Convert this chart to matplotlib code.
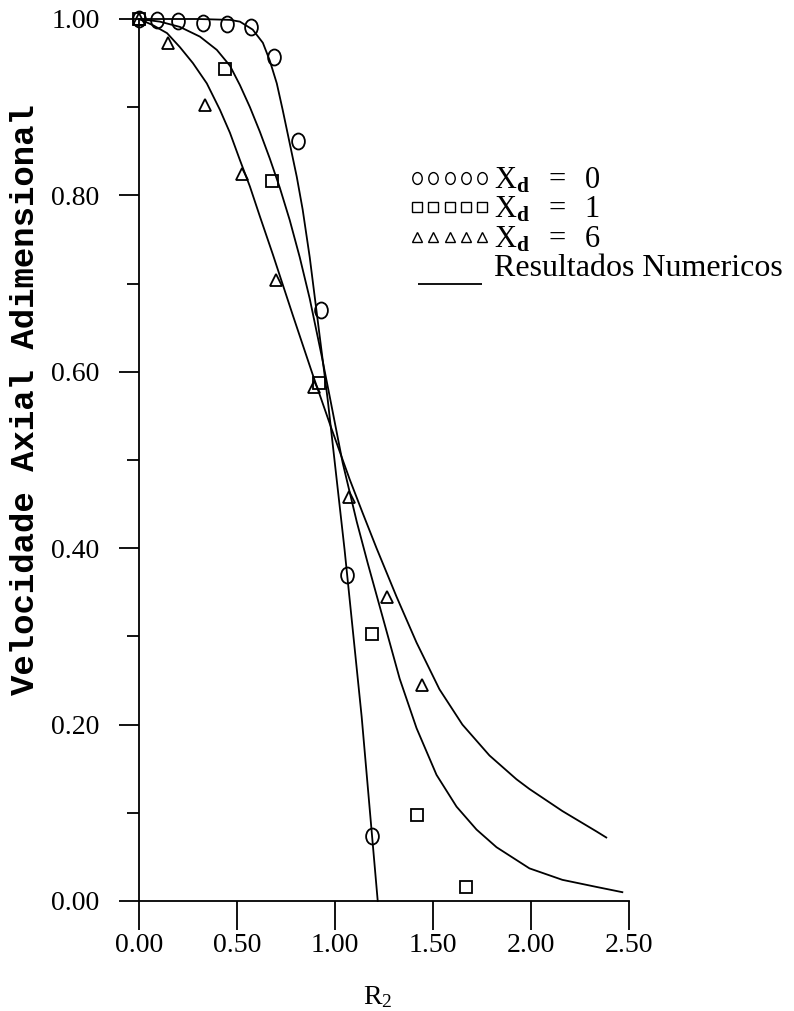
import matplotlib
matplotlib.use("Agg")
import matplotlib.pyplot as plt
import matplotlib.path as mpath
from matplotlib.transforms import Affine2D
from matplotlib.lines import Line2D
from matplotlib.legend_handler import HandlerLine2D

# ---------------- data ----------------
# experimental points, X_d = 0 (circles)
circ_x = [0.0, 0.09, 0.20, 0.325, 0.45, 0.57, 0.69, 0.81, 0.93, 1.06, 1.19]
circ_y = [1.0, 0.999, 0.998, 0.996, 0.994, 0.991, 0.957, 0.862, 0.670, 0.370, 0.074]

# experimental points, X_d = 1 (squares)
sq_x = [0.0, 0.44, 0.68, 0.92, 1.19, 1.42, 1.67]
sq_y = [1.0, 0.943, 0.816, 0.587, 0.303, 0.098, 0.016]

# experimental points, X_d = 6 (triangles)
tri_x = [0.0, 0.15, 0.335, 0.525, 0.70, 0.895, 1.07, 1.265, 1.445]
tri_y = [1.0, 0.973, 0.902, 0.824, 0.704, 0.583, 0.458, 0.345, 0.245]

# numerical results
num0_x = [0.0, 0.30, 0.464, 0.515, 0.58, 0.632, 0.667, 0.703, 0.733, 0.769, 0.805,
          0.835, 0.871, 0.963, 1.049, 1.136, 1.218]
num0_y = [1.0, 1.0, 0.999, 0.997, 0.988, 0.973, 0.953, 0.927, 0.897, 0.859, 0.821,
          0.784, 0.730, 0.568, 0.398, 0.209, 0.0]

num1_x = [0.0, 0.107, 0.209, 0.311, 0.397, 0.464, 0.515, 0.566, 0.617, 0.667, 0.718,
          0.769, 0.820, 0.871, 0.932, 0.973, 1.039, 1.111, 1.167, 1.243, 1.330, 1.416,
          1.518, 1.620, 1.722, 1.824, 1.992, 2.160, 2.333, 2.466]
num1_y = [1.0, 0.997, 0.991, 0.980, 0.965, 0.947, 0.925, 0.900, 0.872, 0.842, 0.809,
          0.772, 0.730, 0.683, 0.618, 0.572, 0.497, 0.430, 0.383, 0.322, 0.252, 0.196,
          0.143, 0.107, 0.081, 0.061, 0.037, 0.024, 0.016, 0.010]

num6_x = [0.0, 0.071, 0.143, 0.209, 0.275, 0.346, 0.413, 0.464, 0.515, 0.566, 0.617,
          0.683, 0.785, 0.886, 0.983, 1.075, 1.141, 1.212, 1.314, 1.416, 1.533, 1.650,
          1.788, 1.926, 1.992, 2.160, 2.333, 2.384]
num6_y = [1.0, 0.993, 0.984, 0.968, 0.950, 0.927, 0.897, 0.871, 0.840, 0.810, 0.776,
          0.733, 0.664, 0.597, 0.535, 0.478, 0.440, 0.400, 0.345, 0.293, 0.240, 0.200,
          0.165, 0.138, 0.127, 0.102, 0.079, 0.072]

x_ticks = [0.0, 0.5, 1.0, 1.5, 2.0, 2.5]
x_ticklabels = ["0.00", "0.50", "1.00", "1.50", "2.00", "2.50"]
y_ticks = [0.0, 0.2, 0.4, 0.6, 0.8, 1.0]
y_ticklabels = ["0.00", "0.20", "0.40", "0.60", "0.80", "1.00"]
y_minor = [0.1, 0.3, 0.5, 0.7, 0.9]

legend_labels = [r"$\mathrm{X}_{\mathbf{d}}\ \ =\ \ 0$",
                 r"$\mathrm{X}_{\mathbf{d}}\ \ =\ \ 1$",
                 r"$\mathrm{X}_{\mathbf{d}}\ \ =\ \ 6$",
                 "Resultados Numericos"]

# ---------------- style ----------------
plt.rcParams['font.family'] = ['Liberation Serif', 'DejaVu Serif']
plt.rcParams['mathtext.fontset'] = 'custom'
plt.rcParams['mathtext.rm'] = 'Liberation Serif'
plt.rcParams['mathtext.it'] = 'Liberation Serif:italic'
plt.rcParams['mathtext.bf'] = 'Liberation Serif:bold'

fig = plt.figure(figsize=(7.94, 10.11), dpi=100)
ax = fig.add_axes([139 / 794, 1 - 901 / 1011, 490 / 794, 882 / 1011])

# elliptical "circle" marker (taller than wide)
ell = mpath.Path.unit_circle().transformed(Affine2D().scale(0.8, 1.0))

lw = 1.3
for xs, ys in [(num0_x, num0_y), (num1_x, num1_y), (num6_x, num6_y)]:
    ax.plot(xs, ys, color='black', lw=lw, clip_on=False, zorder=2)

ax.plot(circ_x, circ_y, ls='none', marker=ell, ms=11.5, mfc='none', mec='black',
        mew=1.3, clip_on=False, zorder=3)
ax.plot(sq_x, sq_y, ls='none', marker='s', ms=8, mfc='none', mec='black',
        mew=1.3, clip_on=False, zorder=3)
ax.plot(tri_x, tri_y, ls='none', marker='^', ms=9, mfc='none', mec='black',
        mew=1.3, clip_on=False, zorder=3)

ax.set_xlim(0, 2.5)
ax.set_ylim(0, 1.0)
for s in ['top', 'right']:
    ax.spines[s].set_visible(False)
for s in ['left', 'bottom']:
    ax.spines[s].set_linewidth(1.3)

ax.set_xticks(x_ticks)
ax.set_xticklabels(x_ticklabels, fontsize=20)
ax.set_yticks(y_ticks)
ax.set_yticklabels(y_ticklabels, fontsize=20)
ax.set_yticks(y_minor, minor=True)
ax.tick_params(axis='x', direction='out', length=21, width=1.3, pad=2)
ax.tick_params(axis='y', which='major', direction='out', length=14.4, width=1.3, pad=14)
ax.tick_params(axis='y', which='minor', direction='out', length=8.6, width=1.3)

ax.set_xlabel(r"R$_2$", fontsize=20)
ax.xaxis.set_label_coords(0.488, -0.094)
ax.set_ylabel("Velocidade Axial Adimensional", fontsize=24.5,
              family=['Liberation Mono', 'DejaVu Sans Mono'], fontweight='bold')
ax.yaxis.set_label_coords(-0.200, 0.569)

# legend
line_mark = mpath.Path([(-1.0, -0.55), (1.0, -0.55)])
handles = [
    Line2D([], [], ls='none', marker=ell, ms=8.5, mfc='none', mec='black', mew=1.0),
    Line2D([], [], ls='none', marker='s', ms=6.5, mfc='none', mec='black', mew=1.0),
    Line2D([], [], ls='none', marker='^', ms=7, mfc='none', mec='black', mew=1.0),
    Line2D([], [], ls='none', marker=line_mark, ms=46, mfc='none', mec='black', mew=1.3),
]
leg = fig.legend(handles, legend_labels, loc='upper left',
                 bbox_to_anchor=(408 / 794, 1 - 166 / 1011),
                 frameon=False, numpoints=5, fontsize=22, handlelength=2.72,
                 handletextpad=0.1, labelspacing=0.0, borderpad=0,
                 borderaxespad=0,
                 handler_map={handles[3]: HandlerLine2D(numpoints=1)})
leg.get_texts()[3].set_fontsize(23)

fig.savefig("out.png", dpi=100)
